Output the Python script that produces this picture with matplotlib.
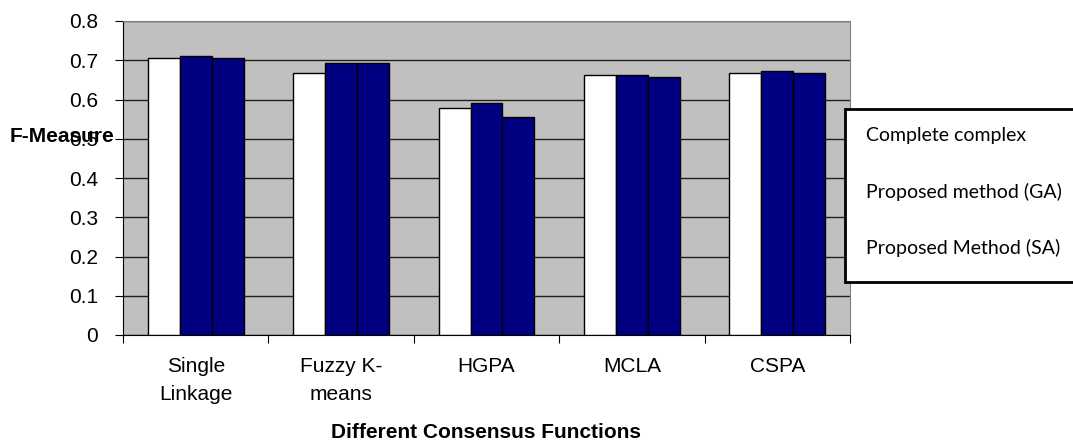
import numpy as np
import matplotlib
matplotlib.use('Agg')
import matplotlib.pyplot as plt
from matplotlib.patches import Rectangle

categories = ['Single\nLinkage', 'Fuzzy K-\nmeans', 'HGPA', 'MCLA', 'CSPA']
series_names = ['Complete complex', 'Proposed method (GA)', 'Proposed Method (SA)']
complete_complex = [0.705, 0.667, 0.578, 0.662, 0.667]
proposed_ga = [0.710, 0.693, 0.590, 0.662, 0.672]
proposed_sa = [0.705, 0.693, 0.556, 0.658, 0.668]
yticks = [0, 0.1, 0.2, 0.3, 0.4, 0.5, 0.6, 0.7, 0.8]
ytick_labels = ['0', '0.1', '0.2', '0.3', '0.4', '0.5', '0.6', '0.7', '0.8']

plt.rcParams['font.family'] = ['Liberation Sans', 'DejaVu Sans']

fig = plt.figure(figsize=(10.73, 4.41), dpi=100)
ax = fig.add_axes([123/1073, 1 - 335/441, 727/1073, 314/441])
ax.set_facecolor('#c0c0c0')

x = np.arange(len(categories))
w = 0.22
colors = ['white', '#000080', '#000080']
for i, vals in enumerate([complete_complex, proposed_ga, proposed_sa]):
    ax.bar(x + (i - 1) * w, vals, w, color=colors[i], edgecolor='black',
           linewidth=1, label=series_names[i], zorder=3)

ax.set_xlim(-0.5, len(categories) - 0.5)
ax.set_ylim(0, 0.8)
ax.set_yticks(yticks)
ax.set_yticklabels(ytick_labels)
ax.yaxis.grid(True, color='#202020', linewidth=1)
ax.set_axisbelow(True)

# ticks between groups, labels centred under each group
ax.set_xticks(np.arange(-0.5, len(categories), 1.0))
ax.set_xticklabels([])
ax.set_xticks(x, minor=True)
ax.set_xticklabels(categories, minor=True, fontsize=15, linespacing=1.6)
ax.tick_params(axis='x', which='minor', length=0, pad=16)
ax.tick_params(axis='x', which='major', length=6, direction='out', color='black')
ax.tick_params(axis='y', length=6, direction='out', labelsize=15, pad=12)

for s in ['top', 'right']:
    ax.spines[s].set_color('#808080')
for s in ['left', 'bottom']:
    ax.spines[s].set_color('black')

fig.text(486/1073, 1 - 433/441, 'Different Consensus Functions', ha='center',
         va='center', fontsize=15, fontweight='bold')
fig.text(10/1073, 1 - 137/441, 'F-Measure', ha='left', va='center',
         fontsize=15, fontweight='bold')

# legend frame runs past the right edge of the figure
fig.patches.append(Rectangle((845/1073, 1 - 282/441), 240/1073, 173/441,
                             transform=fig.transFigure, facecolor='white',
                             edgecolor='black', linewidth=2, zorder=5))
handles, labels = ax.get_legend_handles_labels()
leg = fig.legend(handles, labels, loc='upper left',
                 bbox_to_anchor=(848/1073, 1 - 110/441), frameon=False,
                 handlelength=0, handletextpad=0, labelspacing=1.97,
                 prop={'family': 'Lato', 'size': 14})
for h in leg.legend_handles:
    h.set_visible(False)
leg.set_zorder(6)

fig.savefig('out.png', dpi=100)
